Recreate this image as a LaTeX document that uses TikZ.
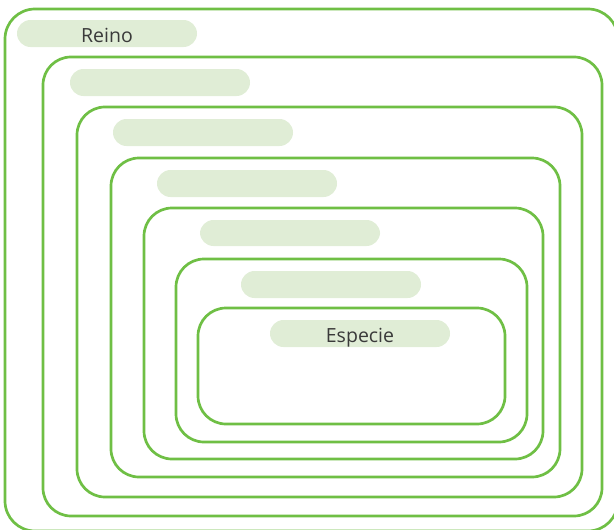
\documentclass[tikz,border=0pt]{standalone}
\usepackage{fontspec}
\setmainfont{Open Sans}
\definecolor{frame}{HTML}{6FBF45}
\definecolor{pill}{HTML}{E0EDD6}
\definecolor{txt}{HTML}{3A3A3A}
\tikzset{
  x=1pt, y=-1pt,
  box/.style={draw=frame, line width=2.7pt, rounded corners=28pt},
  pillbox/.style={fill=pill, rounded corners=13.5pt},
  lbl/.style={text=txt, font=\fontsize{19.5}{22}\selectfont, inner sep=0pt, anchor=base}
}
\begin{document}
\begin{tikzpicture}
\useasboundingbox (0,0) rectangle (614,530);
\clip (0,0) rectangle (614,530);
% nested frames
\draw[box, rounded corners=30pt] (5,9) rectangle (618,531);
\draw[box] (43,57) rectangle (602,516);
\draw[box] (77,107) rectangle (582,497);
\draw[box] (111,158) rectangle (560,477);
\draw[box] (144,208) rectangle (543,459);
\draw[box] (176,259) rectangle (527,442);
\draw[box] (198,308) rectangle (505,424);
% label pills
\fill[pillbox] (17,20) rectangle (197,47);
\fill[pillbox] (70,69) rectangle (250,96);
\fill[pillbox] (113,119) rectangle (293,146);
\fill[pillbox] (157,170) rectangle (337,197);
\fill[pillbox] (200,220) rectangle (380,246);
\fill[pillbox] (241,271) rectangle (421,298);
\fill[pillbox] (270,320) rectangle (450,347);
\node[lbl] (reino) at (107,42) {Reino};
\node[lbl] (especie) at (360,342) {Especie};
\end{tikzpicture}
\end{document}
